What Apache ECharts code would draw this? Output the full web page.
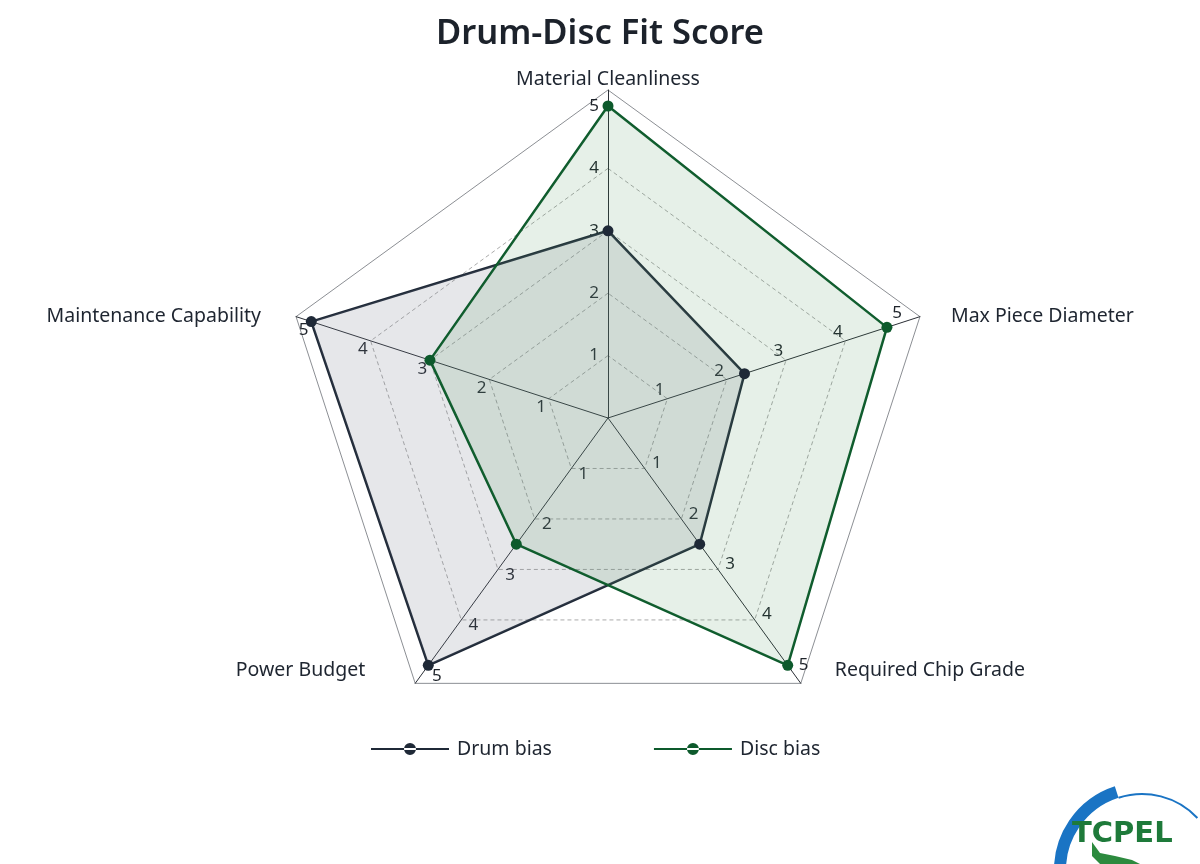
<!DOCTYPE html>
<html>
<head>
<meta charset="utf-8">
<script src="https://cdn.jsdelivr.net/npm/echarts@6/dist/echarts.min.js"></script>
<style>
html,body{margin:0;padding:0;background:#fff;}
#chart{width:1200px;height:864px;}
</style>
</head>
<body>
<div id="chart"></div>
<script>
// Indicators in ECharts order (counter-clockwise from top)
const indicators = ['Material Cleanliness', 'Maintenance Capability', 'Power Budget', 'Required Chip Grade', 'Max Piece Diameter'];
const drumBias = [3, 5, 4.9, 2.5, 2.3];
const discBias = [5, 3, 2.5, 4.9, 4.7];
const seriesNames = ['Drum bias', 'Disc bias'];
const tickLabels = ['', '1', '2', '3', '4', '5'];
const maxValue = 5;

const FONT = 'Noto Sans, DejaVu Sans, sans-serif';
const NAME_FONT = { color: '#1e2530', fontFamily: FONT, fontSize: 19.5 };
// helper: names shown only for the given positions
function namesOnly(keep) {
  return indicators.map((n, i) => ({ name: keep.includes(i) ? n : ' ', max: 1, min: 0 }));
}
function nameRadar(keep, gap, padding, cy) {
  return {
    center: [608, cy], radius: 328, startAngle: 90, shape: 'polygon', splitNumber: 1,
    indicator: namesOnly(keep),
    axisName: Object.assign({ padding: padding }, NAME_FONT),
    nameGap: gap,
    axisLine: { show: false }, splitLine: { show: false }, splitArea: { show: false },
    axisTick: { show: false }, axisLabel: { show: false }
  };
}
const legendIcon = 'path://M0,5 L78,5 L78,7 L0,7 Z M33,6 A6,6 0 1,0 45,6 A6,6 0 1,0 33,6 Z';

const chart = echarts.init(document.getElementById('chart'));
const option = {
  backgroundColor: '#ffffff',
  title: {
    text: 'Drum-Disc Fit Score',
    left: 'center', top: 12,
    textStyle: { fontFamily: FONT, fontSize: 34.5, fontWeight: 600, color: '#1c222b' }
  },
  legend: {
    data: [
      { name: seriesNames[0], icon: legendIcon },
      { name: seriesNames[1], icon: legendIcon }
    ],
    top: 734,
    left: 366,
    itemWidth: 78, itemHeight: 12, itemGap: 102,
    itemStyle: { borderWidth: 0 },
    textStyle: { fontFamily: FONT, fontSize: 19.5, color: '#1e2530', padding: [0, 0, 0, 3] }
  },
  radar: [
    {
      // outer frame with axis lines
      center: [608, 418], radius: 328, startAngle: 90,
      shape: 'polygon', splitNumber: 1,
      indicator: indicators.map(n => ({ name: n, max: 1, min: 0 })),
      axisName: { show: false },
      axisLine: { lineStyle: { color: '#2b2f36', width: 1 } },
      splitLine: { lineStyle: { color: '#8c8f94', width: 1 } },
      splitArea: { show: false },
      axisTick: { show: false },
      axisLabel: { show: false }
    },
    {
      center: [608, 418], radius: 312, startAngle: 90,
      shape: 'polygon', splitNumber: 5,
      indicator: indicators.map(n => ({ name: n, max: maxValue, min: 0 })),
      axisName: { show: false },
      axisLine: { show: false },
      splitLine: { lineStyle: { color: ['#aaa', '#ababab', '#ababab', '#ababab', '#ababab', 'rgba(0,0,0,0)'], type: [4, 3], width: 1 } },
      splitArea: { show: false },
      axisTick: { show: false },
      axisLabel: {
        show: true, fontFamily: FONT, fontSize: 17, color: '#1f242b', margin: 9,
        formatter: (v) => tickLabels[Math.round(v)] || ''
      }
    },
    nameRadar([0], 1, [0, 0, 0, 0], 418),
    nameRadar([1, 4], 0, [0, 35, 0, 31], 418),
    nameRadar([2, 3], 0, [0, 50, 0, 34], 405)
  ],
  series: [
    {
      type: 'radar', radarIndex: 1,
      symbol: 'circle', symbolSize: 11,
      data: [
        {
          name: seriesNames[0], value: drumBias,
          lineStyle: { color: '#1f2937', width: 2.5 },
          itemStyle: { color: '#1f2937' },
          areaStyle: { color: 'rgba(118,124,140,0.26)' }
        },
        {
          name: seriesNames[1], value: discBias,
          lineStyle: { color: '#0d5a2c', width: 2.5 },
          itemStyle: { color: '#0d5a2c' },
          areaStyle: { color: 'rgba(70,140,85,0.19)' }
        }
      ]
    }
  ],
  color: ['#1f2937', '#0d5a2c'],
  graphic: [
    { type: 'arc', shape: { cx: 1142, cy: 870, r: 82, startAngle: Math.PI * 0.98, endAngle: Math.PI * 1.40 }, style: { stroke: '#1a74c4', lineWidth: 12, fill: null } },
    { type: 'arc', shape: { cx: 1142, cy: 870, r: 76, startAngle: Math.PI * 1.40, endAngle: Math.PI * 1.76 }, style: { stroke: '#1a74c4', lineWidth: 2, fill: null } },
    { type: 'text', style: { x: 1072, y: 834, text: 'TCPEL', verticalAlign: 'middle', fontFamily: 'DejaVu Sans', fontWeight: 'bold', fontSize: 29, fill: '#1e7a3a' } },
    { type: 'polygon', shape: { points: [[1092, 842], [1100, 853], [1115, 856], [1132, 860], [1140, 864], [1100, 864], [1092, 856]] }, style: { fill: '#2c8a3e' } }
  ]
};
chart.setOption(option);
</script>
</body>
</html>
